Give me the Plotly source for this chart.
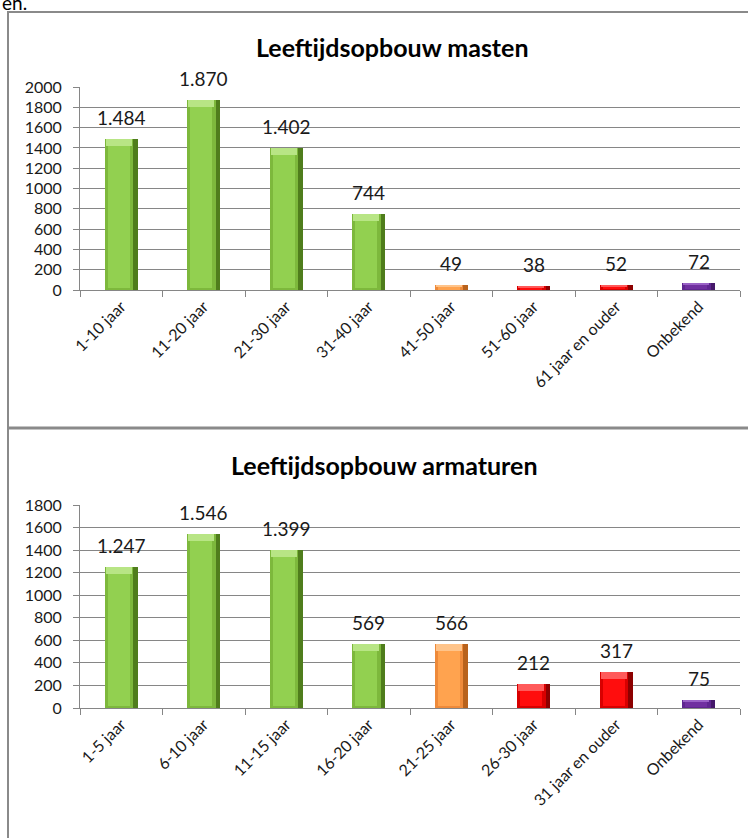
import plotly.graph_objects as go

# Leeftijdsopbouw masten
mast_cats = ["1-10 jaar", "11-20 jaar", "21-30 jaar", "31-40 jaar",
             "41-50 jaar", "51-60 jaar", "61 jaar en ouder", "Onbekend"]
mast_vals = [1484, 1870, 1402, 744, 49, 38, 52, 72]
mast_kleur = ["groen", "groen", "groen", "groen", "oranje", "rood", "rood", "paars"]
mast_yticks = [0, 200, 400, 600, 800, 1000, 1200, 1400, 1600, 1800, 2000]

# Leeftijdsopbouw armaturen
arm_cats = ["1-5 jaar", "6-10 jaar", "11-15 jaar", "16-20 jaar",
            "21-25 jaar", "26-30 jaar", "31 jaar en ouder", "Onbekend"]
arm_vals = [1247, 1546, 1399, 569, 566, 212, 317, 75]
arm_kleur = ["groen", "groen", "groen", "groen", "oranje", "rood", "rood", "paars"]
arm_yticks = [0, 200, 400, 600, 800, 1000, 1200, 1400, 1600, 1800]

W, H = 748, 838
FONT = "Lato"
GRID = "#868686"
BORDER = "#8a8a8a"

# edge (right shade), side, face, top bevel
PALETTE = {
    "groen": {"edge": "#4f7d1c", "side": "#7db83c", "face": "#92d050", "top": "#b8e585"},
    "oranje": {"edge": "#b8621c", "side": "#ee8a3a", "face": "#ffa34f", "top": "#ffc48a"},
    "rood": {"edge": "#8c0000", "side": "#d80000", "face": "#ff0d0d", "top": "#ff5a5a"},
    "paars": {"edge": "#45186a", "side": "#5f2690", "face": "#7030a0", "top": "#9a62c6"},
}


def px_to_paper_y(py):
    return 1 - py / H


def px_to_paper_x(px):
    return px / W


fig = go.Figure()


def add_panel(cats, vals, kleur, xa, ya, ymax, plot_h_px):
    n = len(vals)
    upp = ymax / plot_h_px
    bevel = [min(7 * upp, v * 0.3) for v in vals]
    bottom = [min(2 * upp, v * 0.1) for v in vals]
    face_h = [v - t - b for v, t, b in zip(vals, bevel, bottom)]
    top_base = [v - t for v, t in zip(vals, bevel)]
    layers = [
        (-0.20, 0.40, [0] * n, vals, "edge"),
        (-0.20, 0.345, [0] * n, vals, "side"),
        (-0.165, 0.27, bottom, face_h, "face"),
        (-0.19, 0.32, top_base, bevel, "top"),
    ]
    for offset, width, base, height, key in layers:
        fig.add_trace(go.Bar(
            x=cats, y=height, base=base,
            offset=[offset] * n, width=[width] * n,
            marker=dict(color=[PALETTE[k][key] for k in kleur], line=dict(width=0)),
            xaxis=xa, yaxis=ya, showlegend=False, hoverinfo="skip",
        ))
    xref = "x" if xa == "x" else "x2"
    yref = "y" if ya == "y" else "y2"
    for c, v in zip(cats, vals):
        fig.add_annotation(
            x=c, y=v, xref=xref, yref=yref,
            text=f"{v:,}".replace(",", "."), showarrow=False,
            yanchor="bottom", yshift=8,
            font=dict(family=FONT, size=19, color="#1a1a1a"),
        )


# plot areas in pixels
X0, X1 = 80, 740
TOP_Y0, TOP_Y1 = 87, 290
BOT_Y0, BOT_Y1 = 505, 708

add_panel(mast_cats, mast_vals, mast_kleur, "x", "y", 2000, TOP_Y1 - TOP_Y0)
add_panel(arm_cats, arm_vals, arm_kleur, "x2", "y2", 1800, BOT_Y1 - BOT_Y0)

xaxis_common = dict(
    type="category", range=[-0.5, 7.5],
    domain=[px_to_paper_x(X0), px_to_paper_x(X1)],
    tickson="boundaries", ticks="outside", ticklen=6, tickcolor=GRID,
    showline=True, linecolor=GRID, linewidth=1,
    showgrid=False, tickangle=-45, automargin=False,
    tickfont=dict(family=FONT, size=16, color="#1a1a1a"),
)
yaxis_common = dict(
    showline=True, linecolor=GRID, linewidth=1,
    ticks="outside", ticklen=6, tickcolor=GRID,
    showgrid=True, gridcolor=GRID, gridwidth=1, zeroline=False,
    tickfont=dict(family=FONT, size=16, color="#1a1a1a"),
    ticklabelstandoff=8, automargin=False,
)

fig.update_layout(
    width=W, height=H,
    margin=dict(l=0, r=0, t=0, b=0),
    paper_bgcolor="white", plot_bgcolor="white",
    barmode="overlay", bargap=0,
    xaxis=dict(**xaxis_common, anchor="y"),
    yaxis=dict(**yaxis_common, anchor="x", range=[0, 2000], tickvals=mast_yticks,
               domain=[px_to_paper_y(TOP_Y1), px_to_paper_y(TOP_Y0)]),
    xaxis2=dict(**xaxis_common, anchor="y2"),
    yaxis2=dict(**yaxis_common, anchor="x2", range=[0, 1800], tickvals=arm_yticks,
                domain=[px_to_paper_y(BOT_Y1), px_to_paper_y(BOT_Y0)]),
    font=dict(family=FONT),
)

# chart titles
fig.add_annotation(
    x=px_to_paper_x(392), y=px_to_paper_y(47), xref="paper", yref="paper",
    text="<b>Leeftijdsopbouw masten</b>", showarrow=False,
    xanchor="center", yanchor="middle",
    font=dict(family=FONT, size=25, color="black"),
)
fig.add_annotation(
    x=px_to_paper_x(384), y=px_to_paper_y(465), xref="paper", yref="paper",
    text="<b>Leeftijdsopbouw armaturen</b>", showarrow=False,
    xanchor="center", yanchor="middle",
    font=dict(family=FONT, size=25, color="black"),
)

# tail of the document line above the charts, running off the top edge
fig.add_annotation(
    x=0, y=px_to_paper_y(16), xref="paper", yref="paper",
    text="en.", showarrow=False, xanchor="left", yanchor="bottom",
    font=dict(family=FONT, size=19, color="black"),
)

# frames round the two charts
fig.add_shape(type="line", xref="paper", yref="paper",
              x0=px_to_paper_x(7), x1=1, y0=px_to_paper_y(12), y1=px_to_paper_y(12),
              line=dict(color=BORDER, width=2))
fig.add_shape(type="line", xref="paper", yref="paper",
              x0=px_to_paper_x(8), x1=px_to_paper_x(8), y0=px_to_paper_y(12), y1=0,
              line=dict(color=BORDER, width=2))
fig.add_shape(type="line", xref="paper", yref="paper",
              x0=px_to_paper_x(7), x1=1, y0=px_to_paper_y(428), y1=px_to_paper_y(428),
              line=dict(color=BORDER, width=3))

fig.write_html(
    "out.html",
    post_script="document.body.style.margin='0';document.body.style.overflow='hidden';",
)
